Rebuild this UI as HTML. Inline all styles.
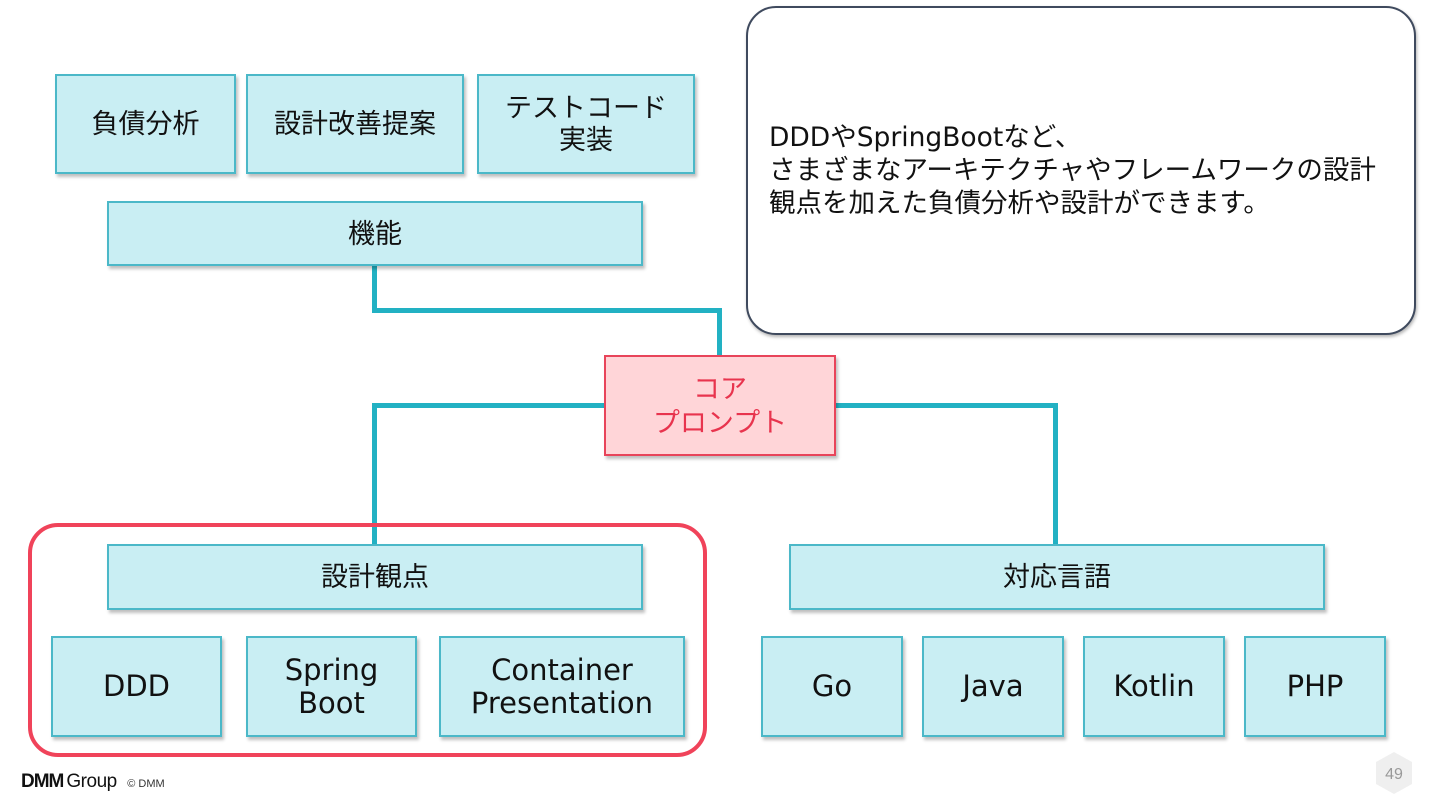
<!DOCTYPE html>
<html><head><meta charset="utf-8"><style>
html,body{margin:0;padding:0;width:1440px;height:810px;background:#fff;overflow:hidden;position:relative;font-family:"Liberation Sans","Noto Sans CJK JP",sans-serif;color:#111}
.b{position:absolute;box-sizing:border-box;background:#c9eef3;border:2px solid #4bb8c8;box-shadow:2px 3px 3px rgba(0,0,0,.25);display:flex;align-items:center;justify-content:center;text-align:center;font-size:27px;line-height:32px}
.l{font-size:29px;line-height:33px;font-family:"DejaVu Sans",sans-serif}
.ln{position:absolute;background:#22b1c3}
</style></head><body>
<div class="ln" style="left:372px;top:264px;width:5px;height:48px"></div>
<div class="ln" style="left:372px;top:308px;width:350px;height:5px"></div>
<div class="ln" style="left:717px;top:308px;width:5px;height:48px"></div>
<div class="ln" style="left:372px;top:403px;width:234px;height:5px"></div>
<div class="ln" style="left:372px;top:403px;width:5px;height:142px"></div>
<div class="ln" style="left:834px;top:403px;width:224px;height:5px"></div>
<div class="ln" style="left:1053px;top:403px;width:5px;height:142px"></div>

<div class="b" style="left:55px;top:74px;width:181px;height:100px">負債分析</div>
<div class="b" style="left:246px;top:74px;width:218px;height:100px">設計改善提案</div>
<div class="b" style="left:477px;top:74px;width:218px;height:100px">テストコード<br>実装</div>
<div class="b" style="left:107px;top:201px;width:536px;height:65px">機能</div>

<div style="position:absolute;left:746px;top:6px;width:670px;height:329px;box-sizing:border-box;border:2px solid #3f4a5e;border-radius:30px;background:#fff;box-shadow:1px 2px 3px rgba(0,0,0,.3)"></div>
<div style="position:absolute;left:769px;top:121px;font-size:26.5px;line-height:33px;white-space:nowrap;font-family:'DejaVu Sans','Noto Sans CJK JP',sans-serif">DDDやSpringBootなど、<br>さまざまなアーキテクチャやフレームワークの設計<br>観点を加えた負債分析や設計ができます。</div>

<div class="b" style="left:604px;top:355px;width:232px;height:101px;background:#ffd5d8;border-color:#e8445a;color:#e8344e;font-size:27px;line-height:34px">コア<br>プロンプト</div>

<div style="position:absolute;left:28px;top:523px;width:679px;height:234px;box-sizing:border-box;border:4px solid #f0435a;border-radius:30px"></div>
<div class="b" style="left:107px;top:544px;width:536px;height:66px">設計観点</div>
<div class="b l" style="left:51px;top:636px;width:171px;height:101px">DDD</div>
<div class="b l" style="left:246px;top:636px;width:171px;height:101px">Spring<br>Boot</div>
<div class="b l" style="left:439px;top:636px;width:246px;height:101px">Container<br>Presentation</div>

<div class="b" style="left:789px;top:544px;width:536px;height:66px">対応言語</div>
<div class="b l" style="left:761px;top:636px;width:142px;height:101px">Go</div>
<div class="b l" style="left:922px;top:636px;width:142px;height:101px">Java</div>
<div class="b l" style="left:1083px;top:636px;width:142px;height:101px">Kotlin</div>
<div class="b l" style="left:1244px;top:636px;width:142px;height:101px">PHP</div>

<div style="position:absolute;left:21px;top:771px;font-size:19px;white-space:nowrap"><b style="letter-spacing:-1px;font-weight:900;margin-right:3px">DMM</b><span style="letter-spacing:-0.5px">Group</span>&nbsp; <span style="font-size:11px;color:#333">© DMM</span></div>
<svg style="position:absolute;left:1374px;top:750px" width="40" height="46"><polygon points="20,2 38,12 38,34 20,44 2,34 2,12" fill="#efefef"/><text x="20" y="29" text-anchor="middle" font-size="16" fill="#999" font-family="Liberation Sans">49</text></svg>
</body></html>
